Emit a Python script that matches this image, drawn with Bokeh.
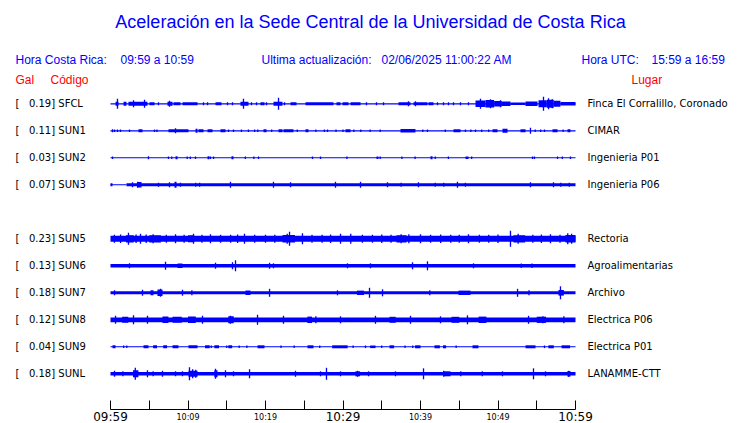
from bokeh.plotting import figure
from bokeh.models import Range1d, LinearAxis, FixedTicker, ColumnDataSource
from bokeh.core.properties import value
from bokeh.embed import file_html
from bokeh.resources import INLINE

# ---------------- data ----------------
TITLE = "Aceleración en la Sede Central de la Universidad de Costa Rica"
HDR_LOCAL_LBL = "Hora Costa Rica:"
HDR_LOCAL_VAL = "09:59 a 10:59"
HDR_UPD_LBL = "Ultima actualización:"
HDR_UPD_VAL = "02/06/2025 11:00:22 AM"
HDR_UTC_LBL = "Hora UTC:"
HDR_UTC_VAL = "15:59 a 16:59"
COL_GAL, COL_CODE, COL_PLACE = "Gal", "Código", "Lugar"

STATIONS = ["SFCL", "SUN1", "SUN2", "SUN3", "SUN5", "SUN6", "SUN7", "SUN8", "SUN9", "SUNL"]
SLOTS = [0, 1, 2, 3, 5, 6, 7, 8, 9, 10]
PEAK_GAL = [0.19, 0.11, 0.03, 0.07, 0.23, 0.13, 0.18, 0.12, 0.04, 0.18]
PLACES = ["Finca El Corralillo, Coronado", "CIMAR", "Ingenieria P01", "Ingenieria P06",
          "Rectoria", "Agroalimentarias", "Archivo", "Electrica P06", "Electrica P01", "LANAMME-CTT"]

# time axis (minutes after 09:59)
TICKS_5MIN = [0, 5, 10, 15, 20, 25, 30, 35, 40, 45, 50, 55, 60]
BIG_TICKS = [0, 30, 60]
BIG_LABELS = ["09:59", "10:29", "10:59"]
SMALL_TICKS = [10, 20, 40, 50]
SMALL_LABELS = ["10:09", "10:19", "10:39", "10:49"]

# trace envelopes: background half-amplitude, start of the background band (min)
BASE_AMP = [0.6, 0.6, 0.5, 1.5, 3.0, 1.7, 1.5, 2.4, 0.5, 1.7]
BASE_START = [0, 0, 0, 2.06, 0, 0, 0, 0, 0, 0]

# bursts: (start_min, end_min, half_amplitude); spikes: (min, half_amplitude)
SFCL_BURSTS = [(0.65, 1.03, 2), (1.68, 2.06, 2), (2.32, 4.77, 2), (5.03, 5.68, 1.5), (7.35, 8.0, 2),
               (8.13, 9.03, 1.5), (9.29, 11.23, 1.5), (13.55, 14.32, 1.5), (16.77, 17.81, 2),
               (19.35, 19.87, 1.5), (21.03, 22.19, 2), (23.23, 24.0, 1.5), (25.16, 28.77, 1.5),
               (29.16, 29.68, 1.5), (29.94, 30.71, 1.5), (30.97, 32.26, 1.5), (37.16, 38.71, 1.5),
               (39.10, 40.90, 1.5), (41.03, 41.68, 1.5), (47.10, 48.4, 3.2), (48.4, 49.5, 3.8),
               (49.5, 50.5, 2.8), (50.5, 51.61, 2.3), (51.61, 53.55, 1.3),
               (53.55, 55.10, 2.3), (55.23, 56.3, 3.5), (56.3, 57.2, 4), (57.2, 58.06, 3),
               (58.06, 60.0, 1.8)]
SFCL_SPIKES = [(0.90, 5), (2.97, 3.5), (4.39, 4), (6.19, 1.5), (7.61, 3), (12.0, 1.5), (12.52, 1.5),
               (15.10, 1.5), (15.74, 1.5), (17.16, 5), (18.19, 1.5), (18.84, 1.5), (20.13, 1.5),
               (21.68, 6), (22.45, 1.5), (33.03, 1.5), (34.32, 1.5), (35.23, 1.5), (38.45, 2.5),
               (39.35, 2.5), (42.19, 1.5), (42.97, 1.5), (43.61, 1.5), (44.26, 1.5), (45.16, 1.5),
               (46.19, 1.5), (47.74, 5), (49.03, 4.5), (50.32, 3.5), (55.87, 7), (56.52, 5.5), (57.0, 4.5)]

SUN1_BURSTS = [(3.61, 4.13, 1.5), (7.48, 10.06, 1.5), (10.97, 11.23, 2), (11.35, 12.0, 1.5),
               (12.52, 13.16, 1.5), (14.19, 14.84, 1.5), (19.74, 20.13, 1.5), (21.68, 22.19, 1.5),
               (22.32, 23.61, 1.5), (25.16, 25.55, 1.5), (30.32, 30.97, 1.5), (37.42, 39.35, 1.8),
               (44.26, 45.16, 1.5), (49.29, 49.94, 1.5), (50.58, 51.23, 2), (52.90, 53.55, 1.5),
               (57.03, 57.68, 1.5), (58.97, 59.35, 1.5)]
SUN1_SPIKES = [(0.26, 1.5), (0.52, 1.2), (0.9, 1.2), (1.29, 1.2), (2.45, 1.2), (5.68, 1.2), (6.0, 1.2),
               (8.39, 2.5), (15.23, 1.2), (15.87, 1.2), (16.9, 1.2), (17.8, 1.2), (18.6, 1.2), (19.0, 1.2),
               (20.8, 1.2), (24.1, 1.2), (26.5, 1.2), (27.6, 1.2), (28.0, 1.2), (29.1, 1.2), (30.0, 1.2),
               (31.4, 1.2), (32.3, 1.2), (33.5, 1.2), (34.8, 1.2), (40.3, 1.2), (40.9, 1.2), (43.2, 1.2),
               (45.8, 1.2), (46.5, 1.2), (47.1, 1.2), (47.9, 1.2), (48.8, 1.2), (54.19, 3), (54.8, 1.2),
               (55.5, 1.2), (56.0, 1.2), (58.4, 1.2)]

SUN2_BURSTS = [(8.39, 8.65, 1.5), (12.52, 12.77, 1.5), (15.61, 15.87, 1.5), (34.32, 34.58, 1.3),
               (41.29, 41.55, 1.5), (45.81, 46.19, 1.3)]
SUN2_SPIKES = [(0.26, 1.2), (4.90, 1.5), (7.48, 1.2), (7.9, 1.2), (9.9, 1.2), (10.3, 1.2), (10.97, 1.2),
               (12.9, 1.2), (13.3, 1.2), (17.4, 1.3), (18.5, 1.2), (19.1, 1.3), (26.06, 1.3), (27.10, 1.3),
               (30.5, 1.2), (34.8, 1.2), (37.6, 1.2), (39.3, 1.2), (41.9, 1.2), (43.6, 1.2), (46.6, 1.2),
               (54.45, 1.3), (54.7, 1.3), (57.68, 1.3), (58.3, 1.2), (59.35, 1.2)]

SUN3_BURSTS = [(0.0, 0.26, 1.5), (3.48, 4.0, 2.8), (8.26, 8.52, 3)]
SUN3_SPIKES = [(2.84, 2.5), (3.5, 3), (6.19, 2), (7.61, 2.5), (9.03, 2), (11.0, 2), (11.5, 2), (15.48, 3),
               (21.03, 3), (23.23, 2.5), (29.03, 3), (32.26, 3), (35.74, 2.5), (37.5, 2), (39.74, 2.5),
               (41.9, 2), (43.0, 2), (44.77, 3), (45.8, 2), (54.19, 2.5), (57.16, 2.5), (58.1, 2), (59.2, 2)]

SUN5_BURSTS = [(2.0, 3.0, 3.6), (5.0, 6.5, 3.6), (10.0, 10.8, 3.5), (22.2, 23.8, 3.8),
               (36.9, 38.2, 3.6), (52.0, 53.5, 3.6), (58.7, 60.0, 3.8)]
SUN5_SPIKES = [(0.5, 4), (1.3, 4.2), (2.32, 6), (3.3, 4.2), (3.87, 5), (4.6, 4.3), (5.5, 4.5), (7.2, 4),
               (8.39, 4.5), (9.5, 4), (10.71, 5), (11.8, 4), (12.9, 4.5), (14.2, 4), (15.5, 4), (16.4, 4.2),
               (17.29, 5), (18.6, 4), (20.0, 4), (21.2, 4), (22.8, 5), (23.10, 7), (24.77, 5.5), (26.0, 4),
               (27.3, 4), (28.4, 4.2), (29.68, 5), (31.0, 5), (32.5, 4), (33.8, 4), (35.0, 4.2), (36.2, 4),
               (37.5, 4.5), (38.5, 4.5), (40.0, 4.5), (41.3, 4), (42.6, 4.2), (43.9, 4), (45.0, 4),
               (46.19, 4.5), (47.6, 4), (48.8, 4), (50.0, 4.2), (51.61, 8), (52.6, 5), (54.5, 4),
               (55.6, 4.2), (56.77, 4.5), (58.0, 4), (59.0, 5.5), (59.5, 5)]

SUN6_BURSTS = [(8.65, 9.29, 2.3)]
SUN6_SPIKES = [(2.45, 2.5), (7.10, 4), (13.55, 3), (15.74, 3.5), (16.13, 5.5), (20.52, 3), (21.03, 2.5),
               (30.58, 2.5), (33.55, 2.5), (38.97, 3.5), (40.90, 4.5), (46.84, 2.5), (53.0, 2.2), (54.4, 2.2)]

SUN7_BURSTS = [(5.16, 5.55, 2.5), (6.06, 6.71, 3.2), (17.42, 18.06, 2.3), (31.8, 32.7, 2.2),
               (44.9, 46.45, 2.2), (57.8, 58.5, 2.8)]
SUN7_SPIKES = [(0.52, 2.5), (4.13, 3), (6.45, 4), (9.29, 3), (10.5, 2.5), (20.52, 4), (29.29, 2.5),
               (33.42, 5), (35.10, 3.5), (41.2, 2.5), (52.52, 4), (54.0, 2.5), (58.06, 6.5)]

SUN8_BURSTS = [(1.5, 2.3, 3.0), (6.71, 7.48, 3.3), (8.0, 9.2, 3.0), (10.0, 11.0, 3.3), (15.2, 15.9, 3.5),
               (25.4, 26.0, 3.2), (36.0, 36.8, 3.0), (44.0, 45.0, 3.0), (47.5, 48.5, 3.2), (55.0, 56.2, 3.1)]
SUN8_SPIKES = [(0.65, 4), (2.97, 4.5), (4.77, 4), (11.87, 4), (15.48, 4), (18.97, 5), (22.32, 4),
               (26.5, 3.5), (29.68, 3.5), (34.19, 4), (38.71, 4), (42.58, 3.5), (46.06, 4.5), (53.94, 4),
               (55.8, 3.5), (58.5, 3.5)]

SUN9_BURSTS = [(0.26, 0.65, 1.5), (4.26, 4.90, 1.5), (5.5, 6.0, 1.5), (6.8, 7.3, 1.5), (8.0, 8.77, 1.5),
               (10.06, 11.23, 1.5), (12.2, 12.8, 1.5), (13.4, 14.0, 1.5), (15.2, 15.7, 1.5), (18.97, 19.87, 1.5),
               (25.42, 26.19, 1.5), (28.6, 30.6, 1.5), (33.5, 34.2, 1.3), (36.0, 36.6, 1.5), (39.3, 40.0, 1.5),
               (41.8, 42.5, 1.5), (42.9, 43.3, 1.5), (46.71, 47.48, 1.5), (53.55, 54.84, 1.5), (56.5, 57.2, 1.5),
               (58.2, 59.3, 1.5)]
SUN9_SPIKES = [(1.7, 1.3), (2.1, 1.3), (13.0, 1.3), (15.0, 1.3), (16.6, 1.3), (17.6, 1.3), (22.0, 1.3),
               (23.7, 1.3), (27.0, 1.3), (31.3, 1.3), (32.9, 1.3), (35.0, 1.3), (38.0, 1.3), (39.0, 1.3),
               (44.6, 1.3), (56.0, 1.3)]

SUNL_BURSTS = [(2.9, 3.6, 3.5), (10.06, 11.23, 3), (13.4, 13.8, 3.5), (31.6, 32.2, 2.5), (42.97, 43.87, 2.5),
               (58.97, 59.35, 2.8)]
SUNL_SPIKES = [(0.52, 3), (1.6, 2.5), (3.2, 6), (4.77, 3.5), (5.5, 2.5), (6.71, 3), (8.39, 2.5), (9.29, 2.5),
               (10.19, 6.5), (10.6, 4.5), (11.0, 4), (13.55, 5), (14.84, 3.5), (15.87, 2.5), (17.94, 4.5),
               (23.87, 3), (27.10, 2.5), (27.87, 6), (29.68, 2.5), (31.87, 3), (33.3, 2.5), (36.77, 2.5),
               (40.39, 5.5), (43.0, 3), (45.2, 2.5), (47.97, 2.5), (50.58, 2.5), (54.58, 5.5), (56.13, 2.5),
               (59.1, 3)]

BURSTS = [SFCL_BURSTS, SUN1_BURSTS, SUN2_BURSTS, SUN3_BURSTS, SUN5_BURSTS,
          SUN6_BURSTS, SUN7_BURSTS, SUN8_BURSTS, SUN9_BURSTS, SUNL_BURSTS]
SPIKES = [SFCL_SPIKES, SUN1_SPIKES, SUN2_SPIKES, SUN3_SPIKES, SUN5_SPIKES,
          SUN6_SPIKES, SUN7_SPIKES, SUN8_SPIKES, SUN9_SPIKES, SUNL_SPIKES]

# ---------------- layout helpers ----------------
W, H = 740, 423
X0_PX, PX_PER_MIN = 110.0, 7.75      # where 09:59 sits, pixels per minute
Y0_PX, SLOT_PX = 103.3, 27.0         # first trace, trace spacing


def tx(xpx):
    return (xpx - X0_PX) / PX_PER_MIN


def sy(ypx):
    return (ypx - Y0_PX) / SLOT_PX


AMP_SCALE = 1.0 / SLOT_PX
SPIKE_W = 0.17
BLUE = "#0000ff"
RED = "#ff0000"
NB = "\u00a0"

p = figure(width=W, height=H, output_backend="svg", toolbar_location=None,
           x_range=Range1d(tx(0), tx(W)), y_range=Range1d(sy(H), sy(0)),
           x_axis_location=None, y_axis_location=None, min_border=0,
           outline_line_color=None, background_fill_color="white", border_fill_color="white")
p.styles = {"position": "absolute", "left": "0px", "top": "0px"}
p.grid.visible = False

# ---------------- traces ----------------
L, R, T, B = [], [], [], []


def add(t0, t1, s, a):
    L.append(t0); R.append(t1)
    T.append(s - a * AMP_SCALE); B.append(s + a * AMP_SCALE)


for i, s in enumerate(SLOTS):
    if BASE_START[i] > 0:
        add(0, BASE_START[i], s, 0.5)
    add(BASE_START[i], 60, s, BASE_AMP[i])
    for (t0, t1, a) in BURSTS[i]:
        add(t0, t1, s, a)
    for (t, a) in SPIKES[i]:
        add(max(0, t - SPIKE_W / 2), min(60, t + SPIKE_W / 2), s, a)

p.quad(left="left", right="right", top="top", bottom="bottom",
       source=ColumnDataSource(dict(left=L, right=R, top=T, bottom=B)),
       fill_color=BLUE, line_color=None)

# ---------------- station labels ----------------
left_txt = [f"[{NB * 3}{g:.2f}] {n}" for g, n in zip(PEAK_GAL, STATIONS)]
lab_y = [s + sy(Y0_PX - 0.3) for s in SLOTS]
p.text(x=[tx(15)] * len(SLOTS), y=lab_y, text=left_txt, text_font=value("DejaVu Sans"),
       text_font_size="10px", text_baseline="alphabetic", text_align="left", text_color="black")
p.text(x=[tx(587)] * len(SLOTS), y=lab_y, text=PLACES, text_font=value("DejaVu Sans"),
       text_font_size="10px", text_baseline="alphabetic", text_align="left", text_color="black")

# ---------------- title and headers ----------------
p.text(x=[tx(W / 2)], y=[sy(21.5)], text=[TITLE], text_font=value("Liberation Sans"),
       text_font_size="18px", text_align="center", text_baseline="alphabetic", text_color=BLUE)
p.text(x=[tx(15), tx(120), tx(261), tx(381), tx(581), tx(651)], y=[sy(59.5)] * 6,
       text=[HDR_LOCAL_LBL, HDR_LOCAL_VAL, HDR_UPD_LBL, HDR_UPD_VAL, HDR_UTC_LBL, HDR_UTC_VAL],
       text_font=value("Liberation Sans"), text_font_size="12px", text_align="left",
       text_baseline="alphabetic", text_color=BLUE)
p.text(x=[tx(15), tx(50), tx(631)], y=[sy(79.5)] * 3, text=[COL_GAL, COL_CODE, COL_PLACE],
       text_font=value("Liberation Sans"), text_font_size="12px", text_align="left",
       text_baseline="alphabetic", text_color=RED)

# ---------------- time axis ----------------
AXIS_Y = sy(409)
ax_small = LinearAxis(fixed_location=AXIS_Y, ticker=FixedTicker(ticks=TICKS_5MIN, minor_ticks=[]),
                      bounds=(TICKS_5MIN[0], TICKS_5MIN[-1]))
ax_small.major_label_overrides = {t: (SMALL_LABELS[SMALL_TICKS.index(t)] if t in SMALL_TICKS else "")
                                  for t in TICKS_5MIN}
ax_small.major_tick_in = 9
ax_small.major_tick_out = 0
ax_small.minor_tick_line_color = None
ax_small.axis_line_color = "black"
ax_small.major_tick_line_color = "black"
ax_small.major_label_text_font = "DejaVu Sans"
ax_small.major_label_text_font_size = "8px"
ax_small.major_label_text_color = "black"
ax_small.major_label_standoff = 3

ax_big = LinearAxis(fixed_location=AXIS_Y, ticker=FixedTicker(ticks=BIG_TICKS, minor_ticks=[]))
ax_big.major_label_overrides = {t: l for t, l in zip(BIG_TICKS, BIG_LABELS)}
ax_big.axis_line_color = None
ax_big.major_tick_line_color = None
ax_big.minor_tick_line_color = None
ax_big.major_tick_in = 0
ax_big.major_tick_out = 0
ax_big.major_label_text_font = "DejaVu Sans"
ax_big.major_label_text_font_size = "12px"
ax_big.major_label_text_color = "black"
ax_big.major_label_standoff = 0

p.add_layout(ax_small, "below")
p.add_layout(ax_big, "below")

open("out.html", "w").write(file_html(p, INLINE))
